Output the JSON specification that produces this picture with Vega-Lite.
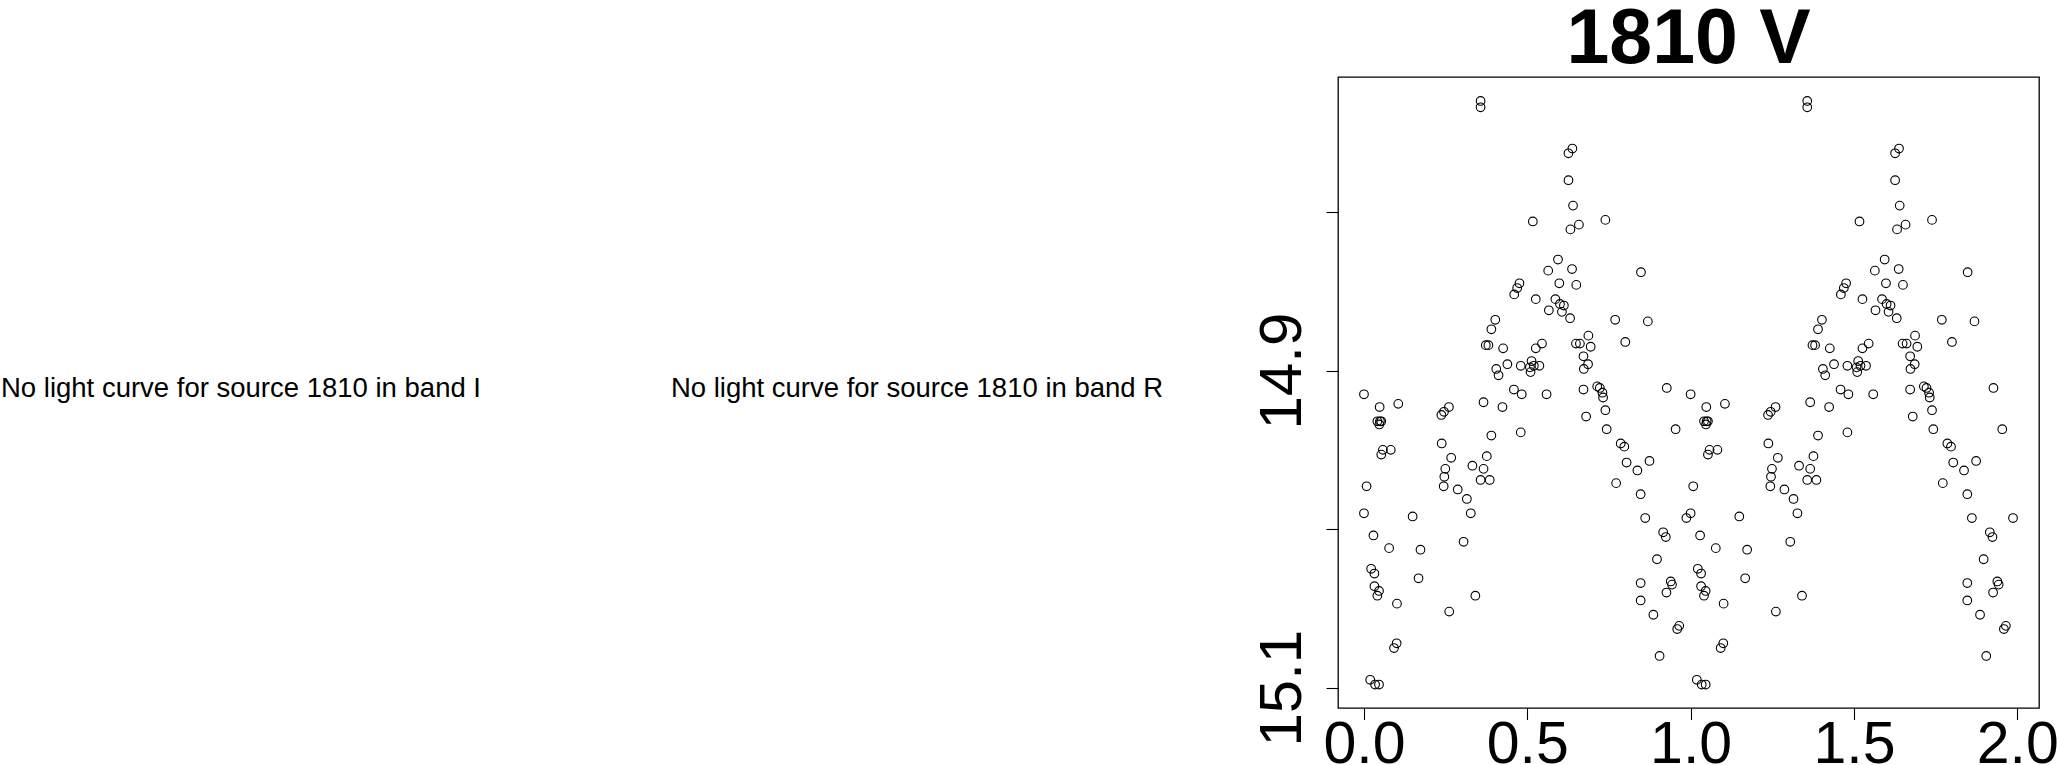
{
  "$schema": "https://vega.github.io/schema/vega-lite/v6.json",
  "padding": 0,
  "background": "white",
  "bounds": "flush",
  "spacing": 0,
  "config": {"view": {"stroke": null}, "font": "Liberation Sans"},
  "datasets": {
    "pts": [
      {"p":0.357,"m":14.730},{"p":0.357,"m":14.734},{"p":0.638,"m":14.760},{"p":0.626,"m":14.763},{"p":0.626,"m":14.780},
      {"p":0.640,"m":14.796},{"p":0.517,"m":14.806},{"p":0.658,"m":14.808},{"p":0.632,"m":14.811},{"p":0.739,"m":14.805},
      {"p":0.594,"m":14.830},{"p":0.564,"m":14.837},{"p":0.637,"m":14.836},{"p":0.848,"m":14.838},{"p":0.476,"m":14.845},
      {"p":0.469,"m":14.848},{"p":0.460,"m":14.852},{"p":0.598,"m":14.845},{"p":0.650,"m":14.846},{"p":0.526,"m":14.855},
      {"p":0.586,"m":14.855},{"p":0.600,"m":14.858},{"p":0.612,"m":14.859},{"p":0.566,"m":14.862},{"p":0.606,"m":14.863},
      {"p":0.631,"m":14.867},{"p":0.402,"m":14.868},{"p":0.390,"m":14.874},{"p":0.769,"m":14.868},{"p":0.869,"m":14.869},
      {"p":0.800,"m":14.882},{"p":0.373,"m":14.884},{"p":0.381,"m":14.884},{"p":0.426,"m":14.886},{"p":0.545,"m":14.883},
      {"p":0.526,"m":14.886},{"p":0.687,"m":14.878},{"p":0.649,"m":14.883},{"p":0.661,"m":14.883},{"p":0.694,"m":14.885},
      {"p":0.672,"m":14.891},{"p":0.686,"m":14.896},{"p":0.673,"m":14.899},{"p":0.405,"m":14.899},{"p":0.412,"m":14.903},
      {"p":0.439,"m":14.896},{"p":0.480,"m":14.897},{"p":0.513,"m":14.894},{"p":0.508,"m":14.898},{"p":0.520,"m":14.897},
      {"p":0.537,"m":14.897},{"p":0.510,"m":14.901},{"p":0.000,"m":14.915},{"p":0.048,"m":14.923},{"p":0.105,"m":14.921},
      {"p":0.041,"m":14.932},{"p":0.049,"m":14.932},{"p":0.047,"m":14.934},{"p":0.053,"m":14.932},{"p":0.058,"m":14.950},
      {"p":0.082,"m":14.950},{"p":0.053,"m":14.953},{"p":0.008,"m":14.973},{"p":0.000,"m":14.990},{"p":0.029,"m":15.004},
      {"p":0.077,"m":15.012},{"p":0.149,"m":14.992},{"p":0.173,"m":15.013},{"p":0.022,"m":15.025},{"p":0.032,"m":15.028},
      {"p":0.032,"m":15.036},{"p":0.046,"m":15.039},{"p":0.041,"m":15.042},{"p":0.101,"m":15.047},{"p":0.167,"m":15.031},
      {"p":0.100,"m":15.072},{"p":0.092,"m":15.075},{"p":0.019,"m":15.095},{"p":0.034,"m":15.098},{"p":0.046,"m":15.098},
      {"p":0.260,"m":14.923},{"p":0.245,"m":14.926},{"p":0.237,"m":14.928},{"p":0.238,"m":14.946},{"p":0.267,"m":14.955},
      {"p":0.249,"m":14.962},{"p":0.246,"m":14.967},{"p":0.244,"m":14.973},{"p":0.287,"m":14.975},{"p":0.315,"m":14.981},
      {"p":0.327,"m":14.990},{"p":0.305,"m":15.008},{"p":0.341,"m":15.042},{"p":0.261,"m":15.052},{"p":0.366,"m":14.920},
      {"p":0.424,"m":14.923},{"p":0.390,"m":14.941},{"p":0.376,"m":14.954},{"p":0.332,"m":14.960},{"p":0.366,"m":14.962},
      {"p":0.357,"m":14.969},{"p":0.385,"m":14.969},{"p":0.480,"m":14.939},{"p":0.459,"m":14.912},{"p":0.483,"m":14.915},
      {"p":0.559,"m":14.915},{"p":0.672,"m":14.912},{"p":0.680,"m":14.929},{"p":0.714,"m":14.910},{"p":0.722,"m":14.911},
      {"p":0.730,"m":14.914},{"p":0.732,"m":14.917},{"p":0.739,"m":14.925},{"p":0.743,"m":14.937},{"p":0.786,"m":14.946},
      {"p":0.797,"m":14.948},{"p":0.804,"m":14.958},{"p":0.874,"m":14.957},{"p":0.837,"m":14.963},{"p":0.772,"m":14.971},
      {"p":0.847,"m":14.978},{"p":0.861,"m":14.993},{"p":0.916,"m":15.002},{"p":0.924,"m":15.005},{"p":0.897,"m":15.019},
      {"p":0.847,"m":15.034},{"p":0.847,"m":15.045},{"p":0.939,"m":15.033},{"p":0.943,"m":15.035},{"p":0.926,"m":15.040},
      {"p":0.886,"m":15.054},{"p":0.965,"m":15.061},{"p":0.959,"m":15.063},{"p":0.905,"m":15.080},{"p":0.927,"m":14.911},
      {"p":0.954,"m":14.937},{"p":0.987,"m":14.993},
      {"p":1.357,"m":14.730},{"p":1.357,"m":14.734},{"p":1.638,"m":14.760},{"p":1.626,"m":14.763},{"p":1.626,"m":14.780},
      {"p":1.640,"m":14.796},{"p":1.517,"m":14.806},{"p":1.658,"m":14.808},{"p":1.632,"m":14.811},{"p":1.739,"m":14.805},
      {"p":1.594,"m":14.830},{"p":1.564,"m":14.837},{"p":1.637,"m":14.836},{"p":1.848,"m":14.838},{"p":1.476,"m":14.845},
      {"p":1.469,"m":14.848},{"p":1.460,"m":14.852},{"p":1.598,"m":14.845},{"p":1.650,"m":14.846},{"p":1.526,"m":14.855},
      {"p":1.586,"m":14.855},{"p":1.600,"m":14.858},{"p":1.612,"m":14.859},{"p":1.566,"m":14.862},{"p":1.606,"m":14.863},
      {"p":1.631,"m":14.867},{"p":1.402,"m":14.868},{"p":1.390,"m":14.874},{"p":1.769,"m":14.868},{"p":1.869,"m":14.869},
      {"p":1.800,"m":14.882},{"p":1.373,"m":14.884},{"p":1.381,"m":14.884},{"p":1.426,"m":14.886},{"p":1.545,"m":14.883},
      {"p":1.526,"m":14.886},{"p":1.687,"m":14.878},{"p":1.649,"m":14.883},{"p":1.661,"m":14.883},{"p":1.694,"m":14.885},
      {"p":1.672,"m":14.891},{"p":1.686,"m":14.896},{"p":1.673,"m":14.899},{"p":1.405,"m":14.899},{"p":1.412,"m":14.903},
      {"p":1.439,"m":14.896},{"p":1.480,"m":14.897},{"p":1.513,"m":14.894},{"p":1.508,"m":14.898},{"p":1.520,"m":14.897},
      {"p":1.537,"m":14.897},{"p":1.510,"m":14.901},{"p":1.000,"m":14.915},{"p":1.048,"m":14.923},{"p":1.105,"m":14.921},
      {"p":1.041,"m":14.932},{"p":1.049,"m":14.932},{"p":1.047,"m":14.934},{"p":1.053,"m":14.932},{"p":1.058,"m":14.950},
      {"p":1.082,"m":14.950},{"p":1.053,"m":14.953},{"p":1.008,"m":14.973},{"p":1.000,"m":14.990},{"p":1.029,"m":15.004},
      {"p":1.077,"m":15.012},{"p":1.149,"m":14.992},{"p":1.173,"m":15.013},{"p":1.022,"m":15.025},{"p":1.032,"m":15.028},
      {"p":1.032,"m":15.036},{"p":1.046,"m":15.039},{"p":1.041,"m":15.042},{"p":1.101,"m":15.047},{"p":1.167,"m":15.031},
      {"p":1.100,"m":15.072},{"p":1.092,"m":15.075},{"p":1.019,"m":15.095},{"p":1.034,"m":15.098},{"p":1.046,"m":15.098},
      {"p":1.260,"m":14.923},{"p":1.245,"m":14.926},{"p":1.237,"m":14.928},{"p":1.238,"m":14.946},{"p":1.267,"m":14.955},
      {"p":1.249,"m":14.962},{"p":1.246,"m":14.967},{"p":1.244,"m":14.973},{"p":1.287,"m":14.975},{"p":1.315,"m":14.981},
      {"p":1.327,"m":14.990},{"p":1.305,"m":15.008},{"p":1.341,"m":15.042},{"p":1.261,"m":15.052},{"p":1.366,"m":14.920},
      {"p":1.424,"m":14.923},{"p":1.390,"m":14.941},{"p":1.376,"m":14.954},{"p":1.332,"m":14.960},{"p":1.366,"m":14.962},
      {"p":1.357,"m":14.969},{"p":1.385,"m":14.969},{"p":1.480,"m":14.939},{"p":1.459,"m":14.912},{"p":1.483,"m":14.915},
      {"p":1.559,"m":14.915},{"p":1.672,"m":14.912},{"p":1.680,"m":14.929},{"p":1.714,"m":14.910},{"p":1.722,"m":14.911},
      {"p":1.730,"m":14.914},{"p":1.732,"m":14.917},{"p":1.739,"m":14.925},{"p":1.743,"m":14.937},{"p":1.786,"m":14.946},
      {"p":1.797,"m":14.948},{"p":1.804,"m":14.958},{"p":1.874,"m":14.957},{"p":1.837,"m":14.963},{"p":1.772,"m":14.971},
      {"p":1.847,"m":14.978},{"p":1.861,"m":14.993},{"p":1.916,"m":15.002},{"p":1.924,"m":15.005},{"p":1.897,"m":15.019},
      {"p":1.847,"m":15.034},{"p":1.847,"m":15.045},{"p":1.939,"m":15.033},{"p":1.943,"m":15.035},{"p":1.926,"m":15.040},
      {"p":1.886,"m":15.054},{"p":1.965,"m":15.061},{"p":1.959,"m":15.063},{"p":1.905,"m":15.080},{"p":1.927,"m":14.911},
      {"p":1.954,"m":14.937},{"p":1.987,"m":14.993}
    ]
  },
  "hconcat": [
    {
      "width": 480,
      "height": 624,
      "data": {"values": [{"t": "No light curve for source 1810 in band I"}]},
      "mark": {"type": "text", "font": "Liberation Sans", "fontSize": 27.5, "align": "center", "baseline": "middle", "color": "black"},
      "encoding": {"text": {"field": "t"}}
    },
    {
      "width": 857,
      "height": 624,
      "data": {"values": [{"t": "No light curve for source 1810 in band R"}]},
      "mark": {"type": "text", "font": "Liberation Sans", "fontSize": 27.5, "align": "center", "baseline": "middle", "color": "black", "dx": 7.5},
      "encoding": {"text": {"field": "t"}}
    },
    {
      "width": 701,
      "height": 631,
      "title": {"text": "1810 V", "font": "Liberation Sans", "fontSize": 77, "fontWeight": "bold", "color": "black", "anchor": "middle", "offset": -2},
      "view": {"stroke": "black", "strokeWidth": 1.3},
      "data": {"name": "pts"},
      "mark": {"type": "point", "shape": "circle", "filled": false, "size": 75, "strokeWidth": 1.1, "color": "black", "opacity": 1},
      "encoding": {
        "x": {
          "field": "p", "type": "quantitative",
          "scale": {"domain": [-0.0795, 2.0665], "nice": false, "zero": false},
          "axis": {"title": null, "values": [0, 0.5, 1, 1.5, 2], "format": ".1f", "domain": false, "grid": false,
                   "tickSize": 11.5, "tickColor": "black", "tickWidth": 1.1, "labelFont": "Liberation Sans", "labelFontSize": 59,
                   "labelColor": "black", "labelPadding": -4, "labelBaseline": "top", "labelAlign": "center", "labelFlush": false, "labelOverlap": false}
        },
        "y": {
          "field": "m", "type": "quantitative",
          "scale": {"domain": [14.7149, 15.1128], "reverse": true, "nice": false, "zero": false},
          "axis": {"title": null, "values": [14.8, 14.9, 15.0, 15.1], "domain": false, "grid": false,
                   "labelExpr": "(abs(datum.value - 14.9) < 0.001 || abs(datum.value - 15.1) < 0.001) ? format(datum.value, '.1f') : ''",
                   "tickSize": 12, "tickColor": "black", "tickWidth": 1.1, "labelFont": "Liberation Sans", "labelFontSize": 60,
                   "labelColor": "black", "labelAngle": -90, "labelAlign": "center", "labelBaseline": "bottom", "labelPadding": 13,
                   "labelFlush": false, "labelOverlap": false}
        }
      }
    }
  ]
}
